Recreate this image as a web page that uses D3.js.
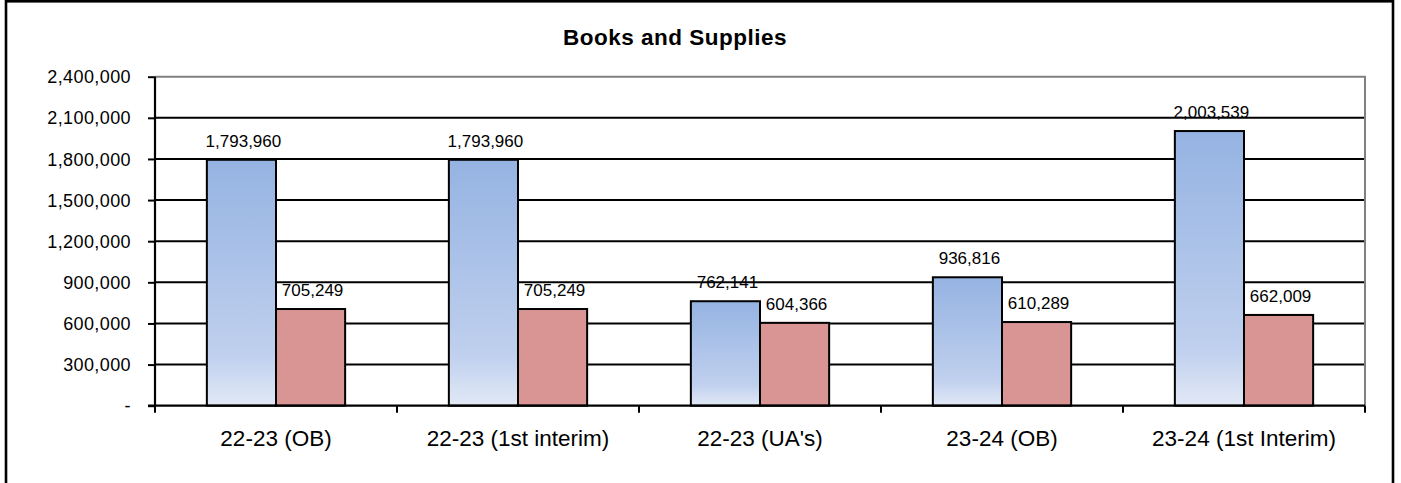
<!DOCTYPE html>
<html>
<head>
<meta charset="utf-8">
<script src="https://cdn.jsdelivr.net/npm/d3@7"></script>
<style>
  html, body { margin: 0; padding: 0; background: #fff; }
  svg { display: block; font-family: "Liberation Sans", Arial, sans-serif; }
</style>
</head>
<body>
<svg id="chart" width="1401" height="483"></svg>
<script>
// Budget periods and the two series plotted for each
const categories = ["22-23 (OB)", "22-23 (1st interim)", "22-23 (UA's)", "23-24 (OB)", "23-24 (1st Interim)"];
const seriesA = [1793960, 1793960, 762141, 936816, 2003539];
const seriesB = [705249, 705249, 604366, 610289, 662009];
const yTicks = [0, 300000, 600000, 900000, 1200000, 1500000, 1800000, 2100000, 2400000];
const title = "Books and Supplies";

const svg = d3.select("#chart");
const W = 1401, H = 483;
const plot = { left: 155, right: 1365, top: 76.7, bottom: 405.7 };

// Outer chart frame
svg.append("rect")
  .attr("x", 6).attr("y", 1.3)
  .attr("width", 1387).attr("height", 520)
  .attr("fill", "#fff").attr("stroke", "#000").attr("stroke-width", 2.6);

// Gradient for the first series
const defs = svg.append("defs");
const grad = defs.append("linearGradient")
  .attr("id", "blueFill").attr("x1", 0).attr("y1", 0).attr("x2", 0).attr("y2", 1);
grad.append("stop").attr("offset", "0%").attr("stop-color", "#95b3e2");
grad.append("stop").attr("offset", "80%").attr("stop-color", "#c0d0ee");
grad.append("stop").attr("offset", "100%").attr("stop-color", "#e2e9f6");

const x0 = d3.scaleBand().domain(categories).range([plot.left, plot.right]).paddingInner(0).paddingOuter(0);
const y = d3.scaleLinear().domain([0, 2400000]).range([plot.bottom, plot.top]);
// Each bar is 1/3.5 of the category (150% gap width)
const barW = x0.bandwidth() / 3.5;

// Horizontal gridlines
svg.append("g")
  .selectAll("line")
  .data(yTicks.filter(v => v > 0 && v < 2400000))
  .join("line")
  .attr("x1", plot.left).attr("x2", plot.right)
  .attr("y1", d => y(d)).attr("y2", d => y(d))
  .attr("stroke", "#000").attr("stroke-width", 2);

// Plot area border (top and right)
svg.append("path")
  .attr("d", `M${plot.left},${plot.top}H${plot.right}V${plot.bottom}`)
  .attr("fill", "none").attr("stroke", "#808080").attr("stroke-width", 2);

// Y axis
const fmt = d3.format(",");
const yAxis = d3.axisLeft(y)
  .tickValues(yTicks)
  .tickSize(7)
  .tickPadding(17)
  .tickFormat(d => d === 0 ? "-" : fmt(d));
const gy = svg.append("g")
  .attr("transform", `translate(${plot.left},0)`)
  .call(yAxis);
gy.select(".domain").attr("stroke", "#000").attr("stroke-width", 2.2)
  .attr("d", `M0,${plot.top}V${plot.bottom}`);
gy.selectAll(".tick line").attr("stroke", "#000").attr("stroke-width", 2);
gy.selectAll(".tick text")
  .attr("fill", "#000")
  .style("font-size", "18px")
  .style("letter-spacing", "0.4px")
  .attr("dy", "0.34em");

// Bars
const groups = svg.append("g")
  .selectAll("g")
  .data(categories)
  .join("g")
  .attr("transform", d => `translate(${x0(d) + x0.bandwidth() / 2},0)`);

groups.append("rect")
  .attr("x", -barW)
  .attr("y", (d, i) => y(seriesA[i]))
  .attr("width", barW)
  .attr("height", (d, i) => y(0) - y(seriesA[i]))
  .attr("fill", "url(#blueFill)")
  .attr("stroke", "#000").attr("stroke-width", 2);

groups.append("rect")
  .attr("x", 0)
  .attr("y", (d, i) => y(seriesB[i]))
  .attr("width", barW)
  .attr("height", (d, i) => y(0) - y(seriesB[i]))
  .attr("fill", "#d99594")
  .attr("stroke", "#000").attr("stroke-width", 2);

// Value labels
groups.append("text")
  .attr("x", -barW / 2 + 2)
  .attr("y", (d, i) => y(seriesA[i]) - 13)
  .attr("text-anchor", "middle")
  .style("font-size", "17px")
  .text((d, i) => fmt(seriesA[i]));

groups.append("text")
  .attr("x", barW / 2 + 2)
  .attr("y", (d, i) => y(seriesB[i]) - 13)
  .attr("text-anchor", "middle")
  .style("font-size", "17px")
  .text((d, i) => fmt(seriesB[i]));

// X axis
const xAxis = d3.axisBottom(x0).tickSize(0).tickPadding(24);
const gx = svg.append("g")
  .attr("transform", `translate(0,${plot.bottom})`)
  .call(xAxis);
gx.select(".domain").remove();
gx.selectAll(".tick text").attr("fill", "#000").style("font-size", "22.5px");

// Baseline and category separator ticks
svg.append("line")
  .attr("x1", plot.left - 7).attr("x2", plot.right)
  .attr("y1", plot.bottom).attr("y2", plot.bottom)
  .attr("stroke", "#000").attr("stroke-width", 2.2);
svg.append("g")
  .selectAll("line")
  .data(d3.range(categories.length + 1))
  .join("line")
  .attr("x1", i => plot.left + i * x0.bandwidth())
  .attr("x2", i => plot.left + i * x0.bandwidth())
  .attr("y1", plot.bottom).attr("y2", plot.bottom + 7)
  .attr("stroke", "#000").attr("stroke-width", 2);

// Title
svg.append("text")
  .attr("x", 675).attr("y", 45)
  .attr("text-anchor", "middle")
  .style("font-size", "22.5px")
  .style("font-weight", "bold")
  .style("letter-spacing", "0.5px")
  .text(title);
</script>
</body>
</html>
